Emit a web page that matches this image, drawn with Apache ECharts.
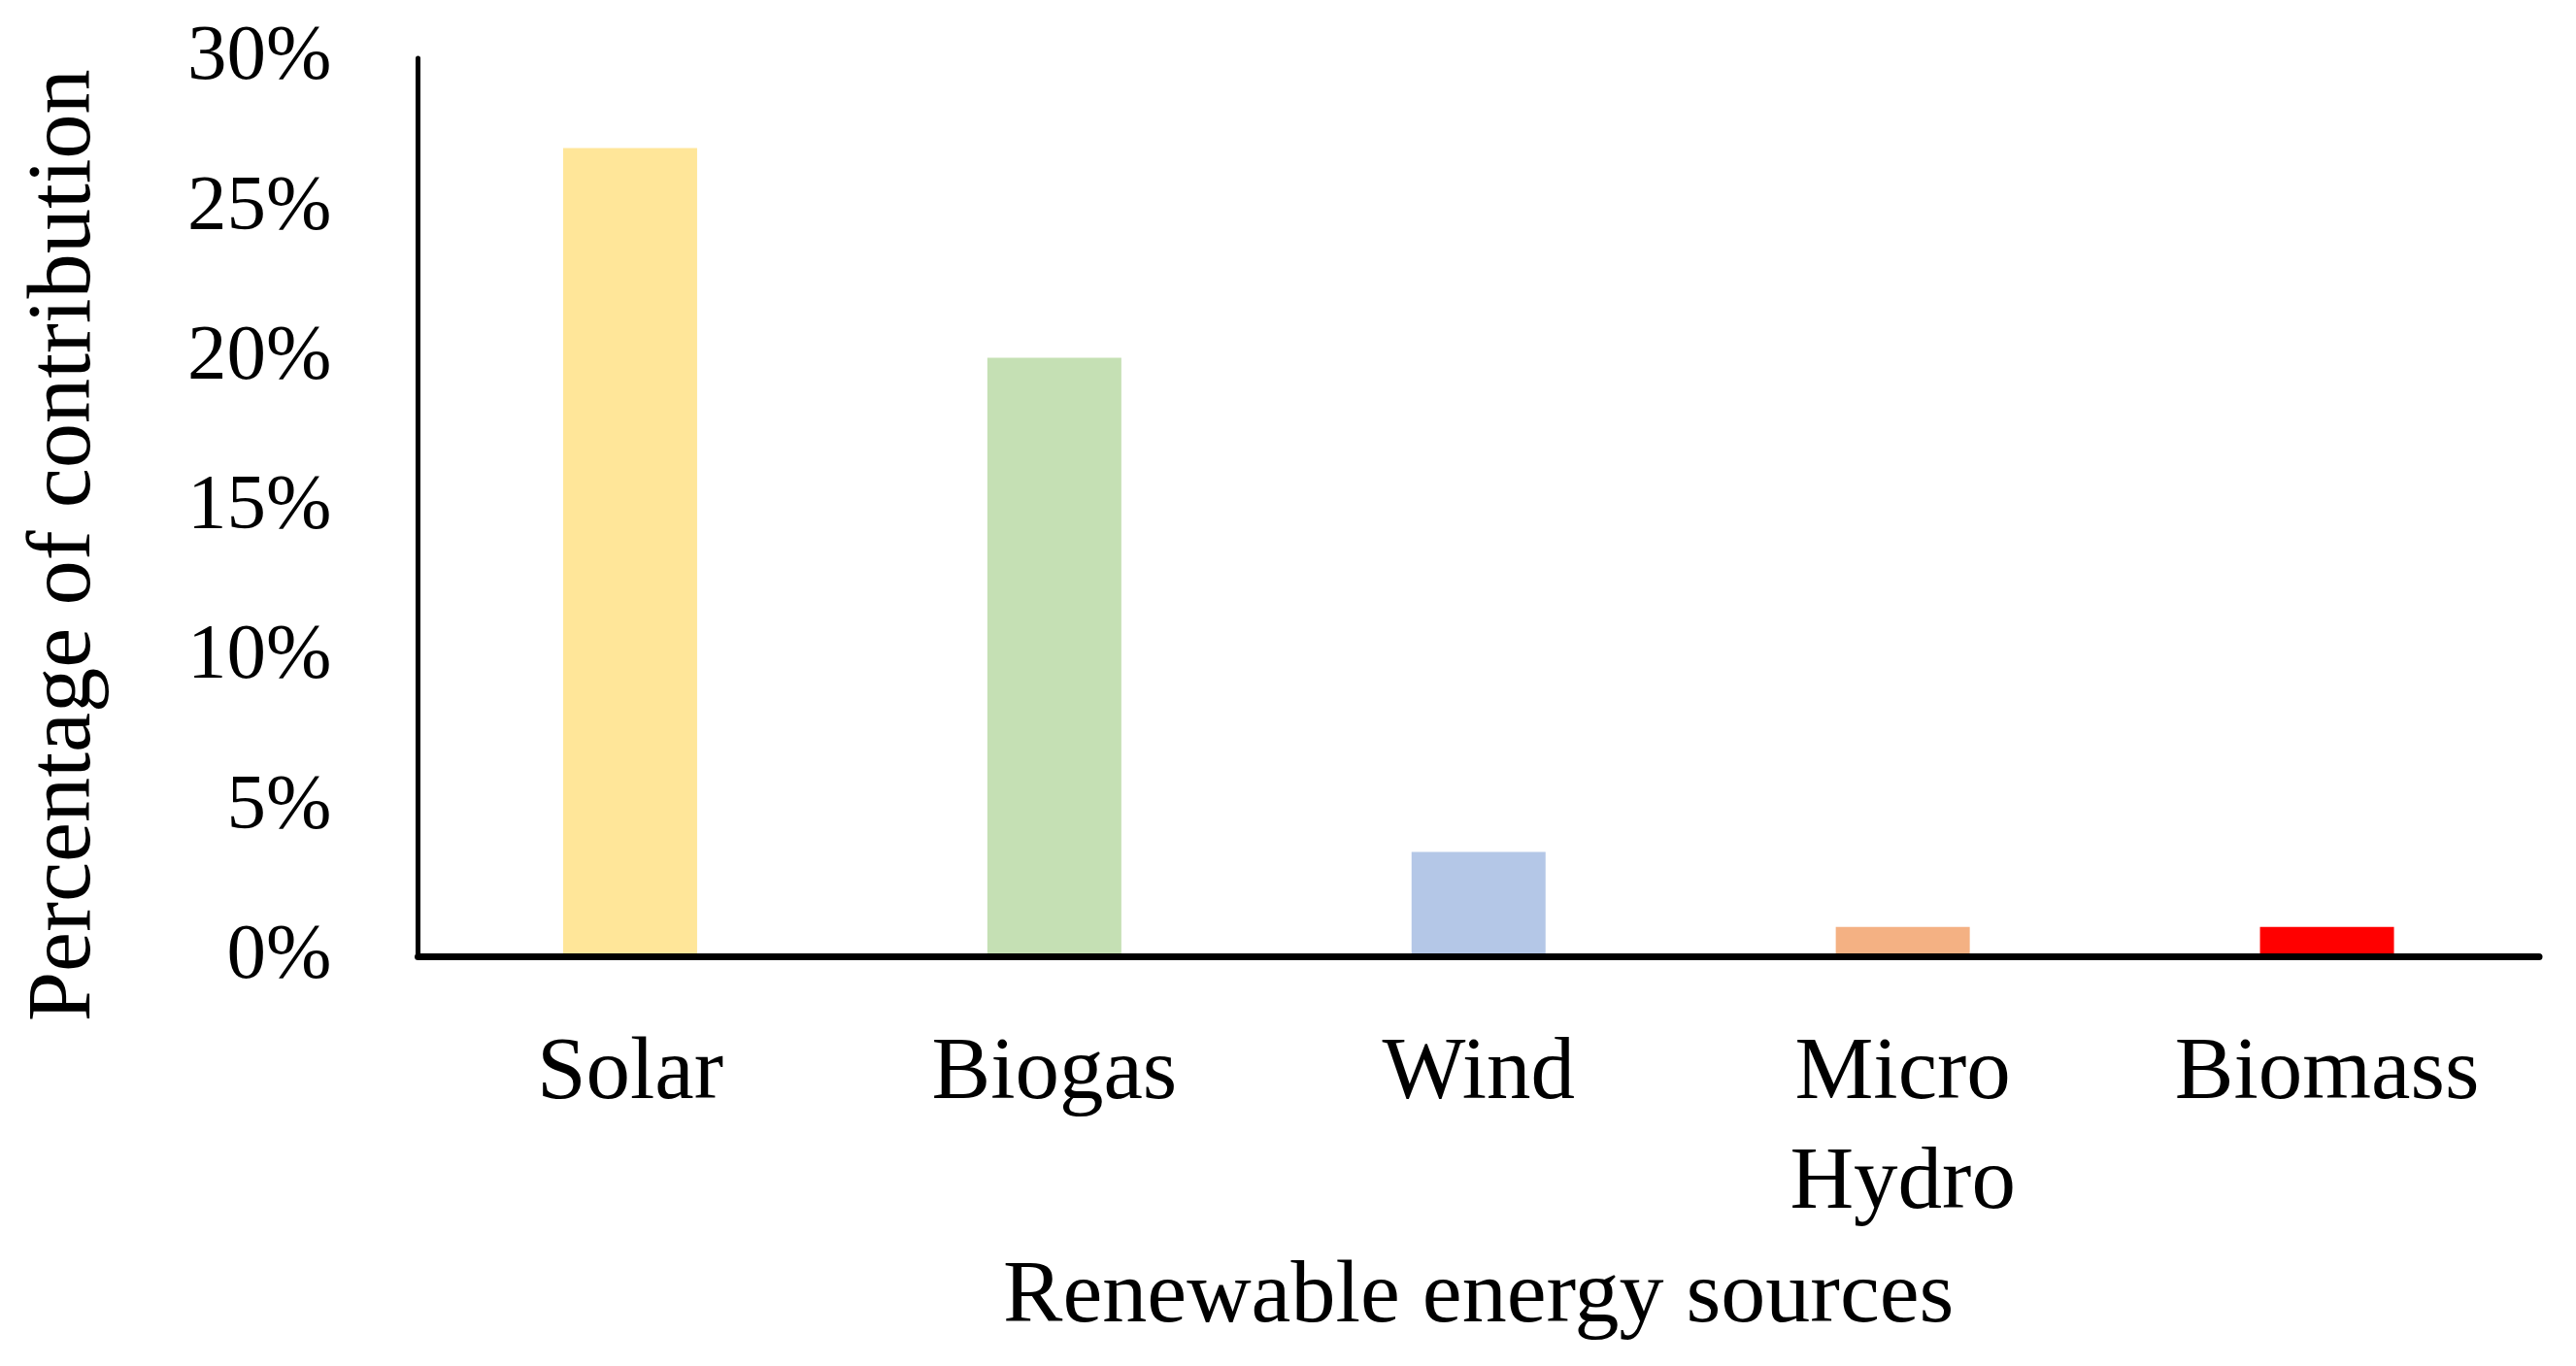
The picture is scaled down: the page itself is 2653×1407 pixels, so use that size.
<!DOCTYPE html>
<html>
<head>
<meta charset="utf-8">
<script src="https://cdn.jsdelivr.net/npm/echarts@6/dist/echarts.min.js"></script>
<style>
html,body{margin:0;padding:0;background:#fff;}
#chart{width:2653px;height:1407px;}
</style>
</head>
<body>
<div id="chart"></div>
<script>
const categories = ['Solar', 'Biogas', 'Wind', 'Micro\nHydro', 'Biomass'];
const values = [27, 20, 3.5, 1.0, 1.0];
const barColors = ['#FFE699', '#C5E0B4', '#B4C7E7', '#F4B183', '#FF0000'];
const xTitle = 'Renewable energy sources';
const yTitle = 'Percentage of contribution';

const font = '"Liberation Serif", "Times New Roman", serif';
const chart = echarts.init(document.getElementById('chart'));
chart.setOption({
  animation: false,
  backgroundColor: '#ffffff',
  grid: { left: 430.5, right: 38, top: 60, bottom: 421.5, containLabel: false, outerBoundsMode: 'none' },
  xAxis: {
    type: 'category',
    data: categories,
    z: 5,
    axisLine: { lineStyle: { color: '#000', width: 7 } },
    axisTick: { show: false },
    axisLabel: { color: '#000', fontFamily: font, fontSize: 91, lineHeight: 113, margin: 65 },
    name: xTitle,
    nameLocation: 'middle',
    nameGap: 306,
    nameTextStyle: { color: '#000', fontFamily: font, fontSize: 92, lineHeight: 90 }
  },
  yAxis: {
    type: 'value',
    min: 0,
    max: 30,
    interval: 5,
    z: 5,
    axisLine: { show: true, lineStyle: { color: '#000', width: 5 } },
    axisTick: { show: false },
    splitLine: { show: false },
    axisLabel: { color: '#000', fontFamily: font, fontSize: 81, margin: 89, formatter: '{value}%' },
    name: yTitle,
    nameLocation: 'middle',
    nameGap: 318,
    nameTextStyle: { color: '#000', fontFamily: font, fontSize: 92.5, lineHeight: 90, padding: [0, 78, 0, 0] }
  },
  series: [{
    type: 'bar',
    barWidth: 138,
    data: values.map((v, i) => ({ value: v, itemStyle: { color: barColors[i] } }))
  }]
});
</script>
</body>
</html>
